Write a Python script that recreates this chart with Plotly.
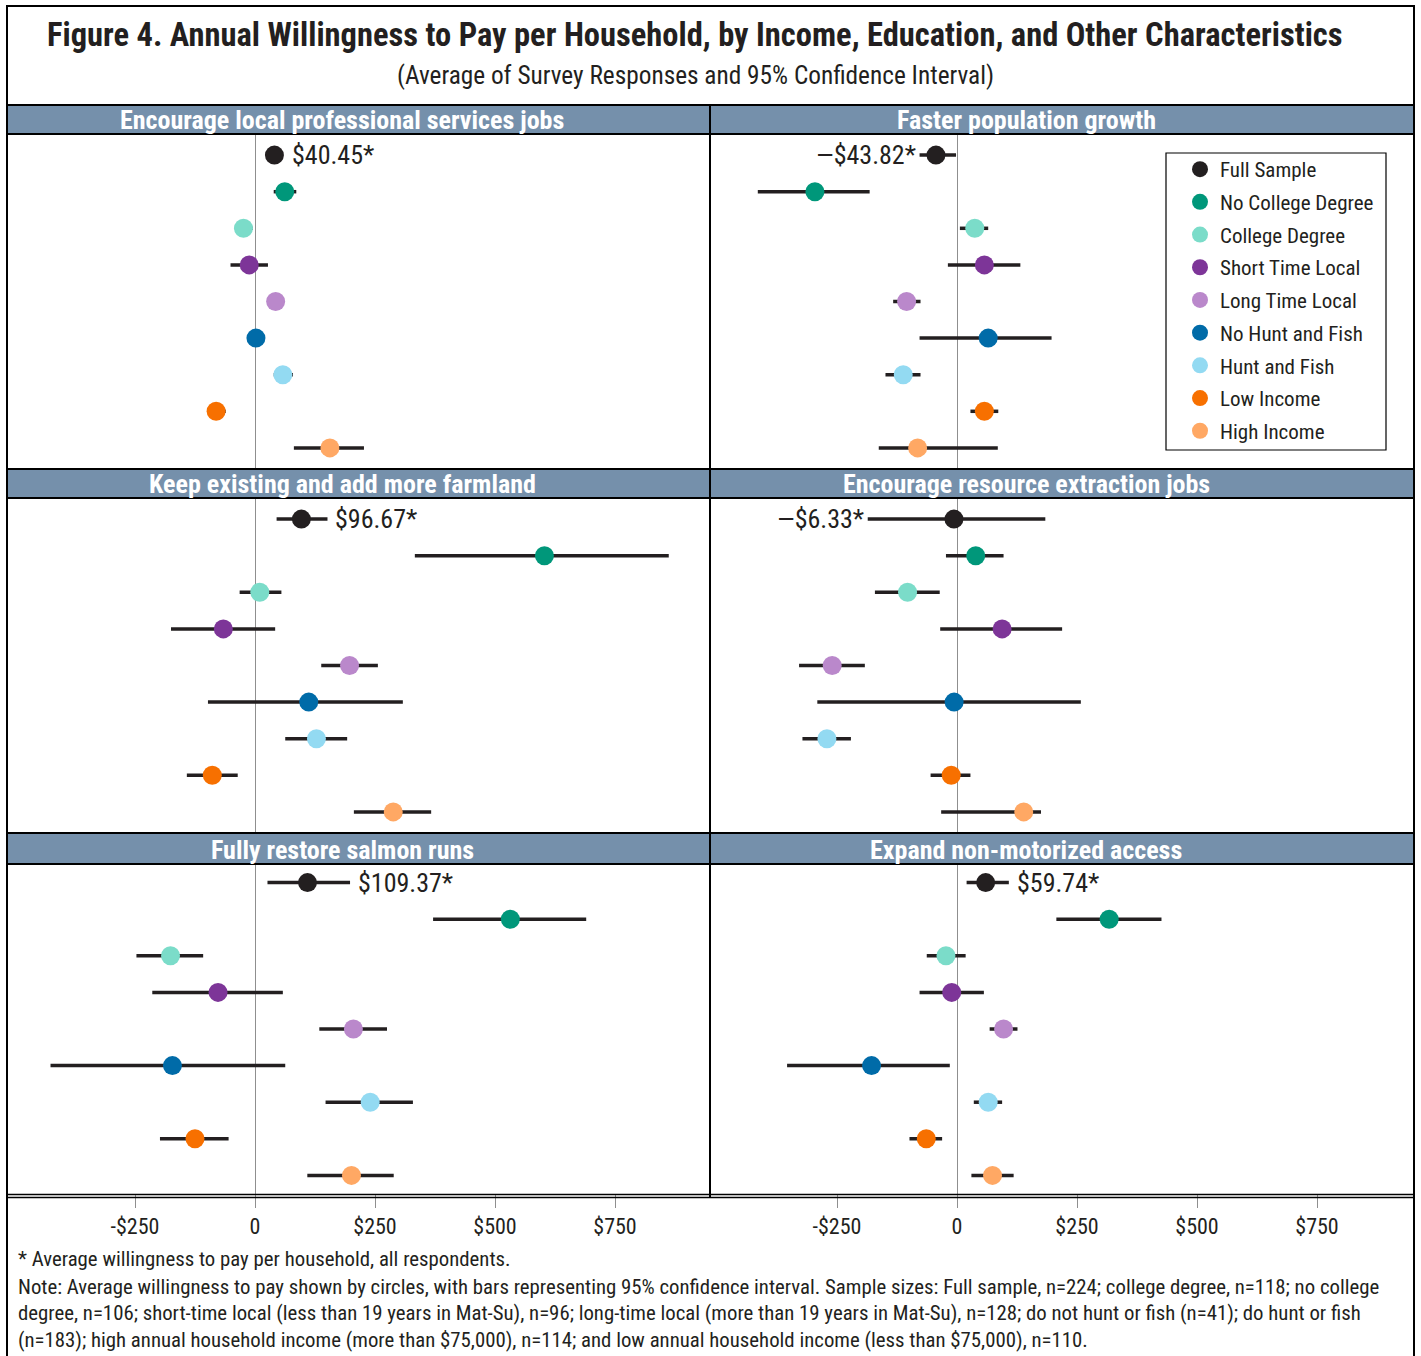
import plotly.graph_objects as go

W, H = 1421, 1356
FONT = "'Roboto Condensed', 'Liberation Sans Narrow', Roboto, sans-serif"
INK = "#231F20"
HEAD = "#7590AB"

# ---------------- data ----------------
groups = ["Full Sample", "No College Degree", "College Degree", "Short Time Local",
          "Long Time Local", "No Hunt and Fish", "Hunt and Fish", "Low Income", "High Income"]
group_colors = ["#231F20", "#00977A", "#7BDCC9", "#7D3598", "#BA88CB",
                "#006BA8", "#93DAF2", "#F77000", "#FFA864"]

panel_titles = ["Encourage local professional services jobs", "Faster population growth",
                "Keep existing and add more farmland", "Encourage resource extraction jobs",
                "Fully restore salmon runs", "Expand non-motorized access"]

prof_mean = [40.45, 62, -24, -12, 43, 2, 58, -81, 156]
prof_lo = [28, 39, -42, -51, 30, -10, 39, -100, 81]
prof_hi = [53, 86, -5, 27, 56, 14, 79, -61, 227]

pop_mean = [-43.82, -296, 37, 57, -105, 65, -112, 57, -82]
pop_lo = [-78, -415, 6, -19, -133, -78, -149, 28, -163]
pop_hi = [-2, -182, 65, 132, -76, 197, -76, 86, 85]

farm_mean = [96.67, 603, 10, -66, 197, 112, 128, -89, 288]
farm_lo = [45, 333, -32, -175, 138, -98, 63, -142, 206]
farm_hi = [151, 862, 55, 42, 256, 308, 192, -36, 367]

res_mean = [-6.33, 39, -103, 94, -260, -6, -271, -12, 139]
res_lo = [-186, -23, -171, -35, -329, -291, -322, -55, -33]
res_hi = [184, 97, -36, 219, -192, 258, -221, 28, 175]

salmon_mean = [109.37, 532, -176, -77, 205, -172, 240, -125, 201]
salmon_lo = [26, 371, -247, -214, 134, -426, 147, -198, 109]
salmon_hi = [198, 690, -108, 58, 275, 63, 329, -55, 289]

nonmot_mean = [59.74, 317, -23, -11, 97, -178, 65, -64, 74]
nonmot_lo = [20, 207, -63, -78, 68, -354, 35, -99, 30]
nonmot_hi = [108, 426, 18, 56, 126, -15, 94, -31, 118]

tick_vals = [-250, 0, 250, 500, 750]
tick_text = ["-$250", "0", "$250", "$500", "$750"]

footnotes = [
    "* Average willingness to pay per household, all respondents.",
    "Note: Average willingness to pay shown by circles, with bars representing 95% confidence interval. Sample sizes: Full sample, n=224; college degree, n=118; no college",
    "degree, n=106; short-time local (less than 19 years in Mat-Su), n=96; long-time local (more than 19 years in Mat-Su), n=128; do not hunt or fish (n=41); do hunt or fish",
    "(n=183); high annual household income (more than $75,000), n=114; and low annual household income (less than $75,000), n=110.",
]

panels = [
    (prof_mean, prof_lo, prof_hi),
    (pop_mean, pop_lo, pop_hi),
    (farm_mean, farm_lo, farm_hi),
    (res_mean, res_lo, res_hi),
    (salmon_mean, salmon_lo, salmon_hi),
    (nonmot_mean, nonmot_lo, nonmot_hi),
]

# ---------------- layout geometry (pixels) ----------------
def px(x):
    return x / W

def py(y):
    return 1 - y / H

col_px = [(8, 710), (711, 1414)]
zero_px = [255, 957]
row_px = [(135, 468), (499, 832), (864, 1194)]
head_px = [(105, 134), (469, 498), (833, 864)]
head_text_cx = [342, 1026]
PX_PER_DOLLAR = 0.48
ROW_STEP = 36.6

fig = go.Figure()
layout = dict(
    width=W, height=H, margin=dict(l=0, r=0, t=0, b=0),
    paper_bgcolor="white", plot_bgcolor="rgba(0,0,0,0)",
    font=dict(family=FONT, color=INK),
    showlegend=True,
)
annotations = []
shapes = []

for k, (mean, lo, hi) in enumerate(panels):
    r, c = divmod(k, 2)
    ax = "" if k == 0 else str(k + 1)
    x0p, x1p = col_px[c]
    z = zero_px[c]
    y0p, y1p = row_px[r]
    hgt = y1p - y0p
    pad = (hgt / ROW_STEP - 8) / 2
    xrange = [(x0p - z) / PX_PER_DOLLAR, (x1p - z) / PX_PER_DOLLAR]
    bottom = r == 2
    layout["xaxis" + ax] = dict(
        domain=[px(x0p), px(x1p)], range=xrange, anchor="y" + ax,
        showgrid=False, zeroline=True, zerolinecolor="#8f8f8f", zerolinewidth=1,
        showline=False,
        tickvals=tick_vals, ticktext=tick_text,
        showticklabels=bottom, ticks="outside" if bottom else "",
        ticklen=13, tickcolor="#8f8f8f", tickwidth=1,
        tickfont=dict(size=22, family=FONT, color=INK),
        fixedrange=True,
    )
    layout["yaxis" + ax] = dict(
        domain=[py(y1p), py(y0p)], range=[8 + pad, -pad], anchor="x" + ax,
        showgrid=False, zeroline=False, showticklabels=False, showline=False,
        fixedrange=True,
    )
    for i, g in enumerate(groups):
        fig.add_trace(go.Scatter(
            x=[mean[i]], y=[i], mode="markers", name=g,
            xaxis="x" + ax, yaxis="y" + ax,
            marker=dict(size=19, color=group_colors[i], line=dict(width=0)),
            error_x=dict(type="data", symmetric=False,
                         array=[hi[i] - mean[i]], arrayminus=[mean[i] - lo[i]],
                         color=INK, thickness=3.5, width=0),
            showlegend=(k == 1), legendgroup=g,
        ))
    # full-sample label
    m = mean[0]
    if m >= 0:
        anchor_x = max(hi[0], m + 20)
        txt = "$%.2f*" % abs(m)
        annotations.append(dict(x=anchor_x, y=0, xref="x" + ax, yref="y" + ax,
                                text=txt, showarrow=False, xanchor="left", yanchor="middle",
                                xshift=6, font=dict(size=26, family=FONT, color=INK)))
    else:
        anchor_x = min(lo[0], m - 20)
        txt = "\u2014$%.2f*" % abs(m)
        annotations.append(dict(x=anchor_x, y=0, xref="x" + ax, yref="y" + ax,
                                text=txt, showarrow=False, xanchor="right", yanchor="middle",
                                xshift=-2, font=dict(size=26, family=FONT, color=INK)))
    # header
    hy0, hy1 = head_px[r]
    hx0 = 7 if c == 0 else 710
    hx1 = 710 if c == 0 else 1414
    shapes.append(dict(type="rect", xref="paper", yref="paper",
                       x0=px(hx0), x1=px(hx1), y0=py(hy1), y1=py(hy0),
                       fillcolor=HEAD, line=dict(color="black", width=2), layer="above"))
    annotations.append(dict(x=px(head_text_cx[c]), y=py((hy0 + hy1) / 2 + 1), xref="paper", yref="paper",
                            text="<b>%s</b>" % panel_titles[k], showarrow=False,
                            xanchor="center", yanchor="middle",
                            font=dict(size=26, family=FONT, color="white")))

# frame and dividers
shapes.append(dict(type="rect", xref="paper", yref="paper", x0=px(7), x1=px(1414),
                   y0=py(1362), y1=py(6), line=dict(color="black", width=2), layer="above"))
shapes.append(dict(type="line", xref="paper", yref="paper", x0=px(710), x1=px(710),
                   y0=py(1197), y1=py(105), line=dict(color="black", width=2), layer="above"))
for yy in (1194.5, 1197.5):
    shapes.append(dict(type="line", xref="paper", yref="paper", x0=px(7), x1=px(1414),
                       y0=py(yy), y1=py(yy), line=dict(color="black", width=1.5), layer="above"))
# legend box
shapes.append(dict(type="rect", xref="paper", yref="paper", x0=px(1166), x1=px(1386),
                   y0=py(450), y1=py(153), line=dict(color="black", width=1.2),
                   fillcolor="white", layer="below"))

# titles
annotations.append(dict(x=px(695), y=py(35), xref="paper", yref="paper",
                        text="<b>Figure 4. Annual Willingness to Pay per Household, by Income, Education, and Other Characteristics</b>",
                        showarrow=False, xanchor="center", yanchor="middle",
                        font=dict(size=32.5, family=FONT, color=INK)))
annotations.append(dict(x=px(695), y=py(75), xref="paper", yref="paper",
                        text="(Average of Survey Responses and 95% Confidence Interval)",
                        showarrow=False, xanchor="center", yanchor="middle",
                        font=dict(size=25.3, family=FONT, color=INK)))

foot_y = [1259, 1287, 1313, 1340]
for t, yy in zip(footnotes, foot_y):
    annotations.append(dict(x=px(16), y=py(yy), xref="paper", yref="paper", text=t,
                            showarrow=False, xanchor="left", yanchor="middle",
                            font=dict(size=20.8, family=FONT, color=INK)))

layout["annotations"] = annotations
layout["shapes"] = shapes
layout["legend"] = dict(x=px(1180), y=py(149), xanchor="left", yanchor="top",
                        bgcolor="rgba(0,0,0,0)", borderwidth=0,
                        font=dict(size=21, family=FONT, color=INK),
                        tracegroupgap=2.4, itemsizing="trace")
fig.update_layout(**layout)
fig.write_html("out.html", config={"displayModeBar": False},
               post_script="document.body.style.margin='0';")
